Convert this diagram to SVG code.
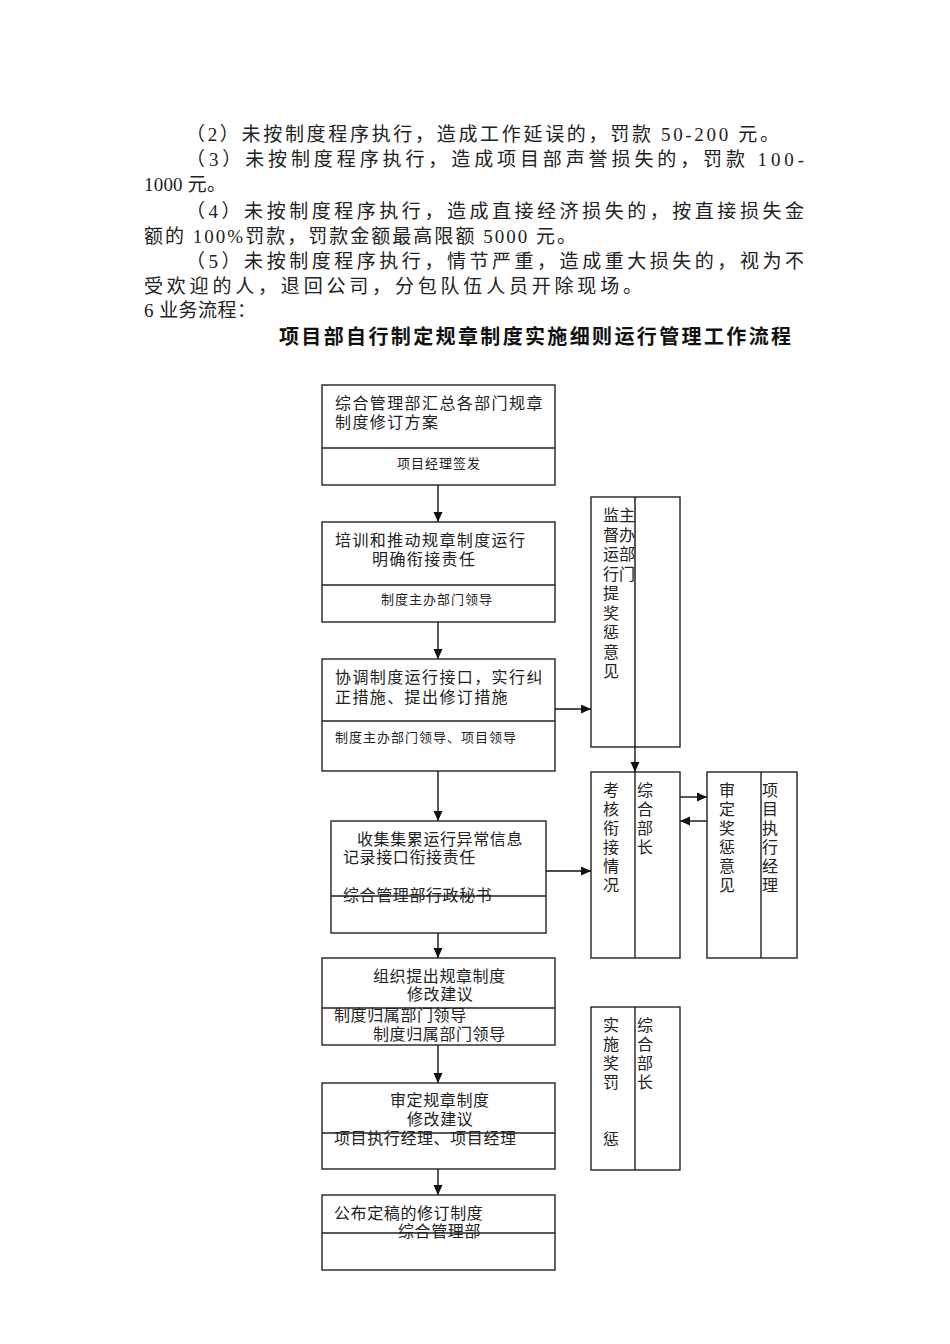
<svg xmlns="http://www.w3.org/2000/svg" width="950" height="1344" viewBox="0 0 950 1344">
<style>
.p{font-family:"Liberation Serif","Noto Sans CJK SC",serif;font-size:19px;fill:#222}
.t{font-family:"Noto Sans CJK SC",sans-serif;font-size:20px;font-weight:bold;fill:#111}
.b{font-family:"Liberation Serif","Noto Sans CJK SC",serif;font-size:16px;fill:#222;letter-spacing:0.6px}
.w{letter-spacing:1.4px}
.s{font-family:"Liberation Serif","Noto Sans CJK SC",serif;font-size:13px;fill:#222;letter-spacing:1px}
.v{font-family:"Liberation Serif","Noto Sans CJK SC",serif;font-size:16px;fill:#222}
.box{fill:#fff;stroke:#222;stroke-width:1.4}
.ln{stroke:#222;stroke-width:1.4;fill:none}
.cn{stroke:#111;stroke-width:1.4;fill:none;marker-end:url(#ah)}
</style>
<defs>
<marker id="ah" markerUnits="userSpaceOnUse" markerWidth="11" markerHeight="10" refX="10" refY="4.5" orient="auto">
<path d="M0,0 L10,4.5 L0,9 z" fill="#111"/>
</marker>
</defs>
<rect width="950" height="1344" fill="#fff"/>
<g id="paragraphs">
<text class="p" x="186" y="141" textLength="593" lengthAdjust="spacing">（2）未按制度程序执行，造成工作延误的，罚款 50-200 元。</text>
<text class="p" x="186" y="166" textLength="618" lengthAdjust="spacing">（3）未按制度程序执行，造成项目部声誉损失的，罚款 100-</text>
<text class="p" x="144" y="191" textLength="82" lengthAdjust="spacing">1000 元。</text>
<text class="p" x="186" y="218" textLength="618" lengthAdjust="spacing">（4）未按制度程序执行，造成直接经济损失的，按直接损失金</text>
<text class="p" x="144" y="243" textLength="432" lengthAdjust="spacing">额的 100%罚款，罚款金额最高限额 5000 元。</text>
<text class="p" x="186" y="268" textLength="618" lengthAdjust="spacing">（5）未按制度程序执行，情节严重，造成重大损失的，视为不</text>
<text class="p" x="144" y="293" textLength="498" lengthAdjust="spacing">受欢迎的人，退回公司，分包队伍人员开除现场。</text>
<text class="p" x="144" y="317" textLength="112" lengthAdjust="spacing">6 业务流程：</text>
<text class="t" x="279" y="344" textLength="512" lengthAdjust="spacing">项目部自行制定规章制度实施细则运行管理工作流程</text>
</g>
<g id="connectors">
<line class="cn" x1="438" y1="485" x2="438" y2="522"/>
<line class="cn" x1="438" y1="622" x2="438" y2="659"/>
<line class="cn" x1="438" y1="771" x2="438" y2="821"/>
<line class="cn" x1="438" y1="933" x2="438" y2="958"/>
<line class="cn" x1="438" y1="1045" x2="438" y2="1083"/>
<line class="cn" x1="438" y1="1169" x2="438" y2="1195"/>
<line class="cn" x1="555" y1="709" x2="591" y2="709"/>
<line class="cn" x1="546" y1="871" x2="591" y2="871"/>
<line class="cn" x1="680" y1="797" x2="707" y2="797"/>
<line class="cn" x1="707" y1="821" x2="680" y2="821"/>
</g>
<g id="n1">
<rect class="box" x="322" y="385" width="233" height="100"/>
<line class="ln" x1="322" y1="448" x2="555" y2="448"/>
<text class="b w" x="335" y="409">综合管理部汇总各部门规章</text>
<text class="b w" x="335" y="428">制度修订方案</text>
<text class="s" x="397" y="468">项目经理签发</text>
</g>
<g id="n2">
<rect class="box" x="322" y="522" width="233" height="100"/>
<line class="ln" x1="322" y1="585" x2="555" y2="585"/>
<text class="b w" x="335" y="546">培训和推动规章制度运行</text>
<text class="b w" x="372" y="565">明确衔接责任</text>
<text class="s" x="381" y="604">制度主办部门领导</text>
</g>
<g id="n3">
<rect class="box" x="322" y="659" width="233" height="112"/>
<line class="ln" x1="322" y1="721" x2="555" y2="721"/>
<text class="b w" x="335" y="683">协调制度运行接口，实行纠</text>
<text class="b w" x="335" y="703">正措施、提出修订措施</text>
<text class="s" x="335" y="742">制度主办部门领导、项目领导</text>
</g>
<g id="n4">
<rect class="box" x="331" y="821" width="215" height="112"/>
<line class="ln" x1="331" y1="896" x2="546" y2="896"/>
<text class="b" x="357" y="845">收集集累运行异常信息</text>
<text class="b" x="343" y="863">记录接口衔接责任</text>
<text class="b" x="343" y="901">综合管理部行政秘书</text>
</g>
<g id="n5">
<rect class="box" x="322" y="958" width="233" height="87"/>
<line class="ln" x1="322" y1="1008" x2="555" y2="1008"/>
<text class="b" x="373" y="982">组织提出规章制度</text>
<text class="b" x="407" y="1000">修改建议</text>
<text class="b" x="334" y="1021">制度归属部门领导</text>
<text class="b" x="373" y="1040">制度归属部门领导</text>
</g>
<g id="n6">
<rect class="box" x="322" y="1083" width="233" height="86"/>
<line class="ln" x1="322" y1="1133" x2="555" y2="1133"/>
<text class="b" x="390" y="1106">审定规章制度</text>
<text class="b" x="407" y="1125">修改建议</text>
<text class="b" x="334" y="1144">项目执行经理、项目经理</text>
</g>
<g id="n7">
<rect class="box" x="322" y="1195" width="233" height="75"/>
<line class="ln" x1="322" y1="1233" x2="555" y2="1233"/>
<text class="b" x="334" y="1219">公布定稿的修订制度</text>
<text class="b" x="398" y="1237">综合管理部</text>
</g>
<g id="r1">
<rect class="box" x="591" y="497" width="89" height="250"/>
<text class="v" x="603" y="521"><tspan x="603">监</tspan><tspan x="603" dy="19.5">督</tspan><tspan x="603" dy="19.5">运</tspan><tspan x="603" dy="19.5">行</tspan><tspan x="603" dy="19.5">提</tspan><tspan x="603" dy="19.5">奖</tspan><tspan x="603" dy="19.5">惩</tspan><tspan x="603" dy="19.5">意</tspan><tspan x="603" dy="19.5">见</tspan></text>
<text class="v" x="619" y="521"><tspan x="619">主</tspan><tspan x="619" dy="19.5">办</tspan><tspan x="619" dy="19.5">部</tspan><tspan x="619" dy="19.5">门</tspan></text>
</g>
<g id="r2">
<rect class="box" x="591" y="772" width="89" height="186"/>
<line class="ln" x1="635" y1="772" x2="635" y2="958"/>
<text class="v" x="603" y="796"><tspan x="603">考</tspan><tspan x="603" dy="19">核</tspan><tspan x="603" dy="19">衔</tspan><tspan x="603" dy="19">接</tspan><tspan x="603" dy="19">情</tspan><tspan x="603" dy="19">况</tspan></text>
<text class="v" x="637" y="796"><tspan x="637">综</tspan><tspan x="637" dy="19">合</tspan><tspan x="637" dy="19">部</tspan><tspan x="637" dy="19">长</tspan></text>
</g>
<g id="r3">
<rect class="box" x="707" y="772" width="90" height="186"/>
<line class="ln" x1="761" y1="772" x2="761" y2="958"/>
<text class="v" x="719" y="796"><tspan x="719">审</tspan><tspan x="719" dy="19">定</tspan><tspan x="719" dy="19">奖</tspan><tspan x="719" dy="19">惩</tspan><tspan x="719" dy="19">意</tspan><tspan x="719" dy="19">见</tspan></text>
<text class="v" x="762" y="796"><tspan x="762">项</tspan><tspan x="762" dy="19">目</tspan><tspan x="762" dy="19">执</tspan><tspan x="762" dy="19">行</tspan><tspan x="762" dy="19">经</tspan><tspan x="762" dy="19">理</tspan></text>
</g>
<g id="r4">
<rect class="box" x="591" y="1007" width="89" height="163"/>
<line class="ln" x1="635" y1="1007" x2="635" y2="1170"/>
<text class="v" x="603" y="1031"><tspan x="603">实</tspan><tspan x="603" dy="19">施</tspan><tspan x="603" dy="19">奖</tspan><tspan x="603" dy="19">罚</tspan><tspan x="603" dy="57">惩</tspan></text>
<text class="v" x="637" y="1031"><tspan x="637">综</tspan><tspan x="637" dy="19">合</tspan><tspan x="637" dy="19">部</tspan><tspan x="637" dy="19">长</tspan></text>
</g>
<g id="connector-vertical">
<line class="cn" x1="635" y1="497" x2="635" y2="772"/>
</g>
</svg>
